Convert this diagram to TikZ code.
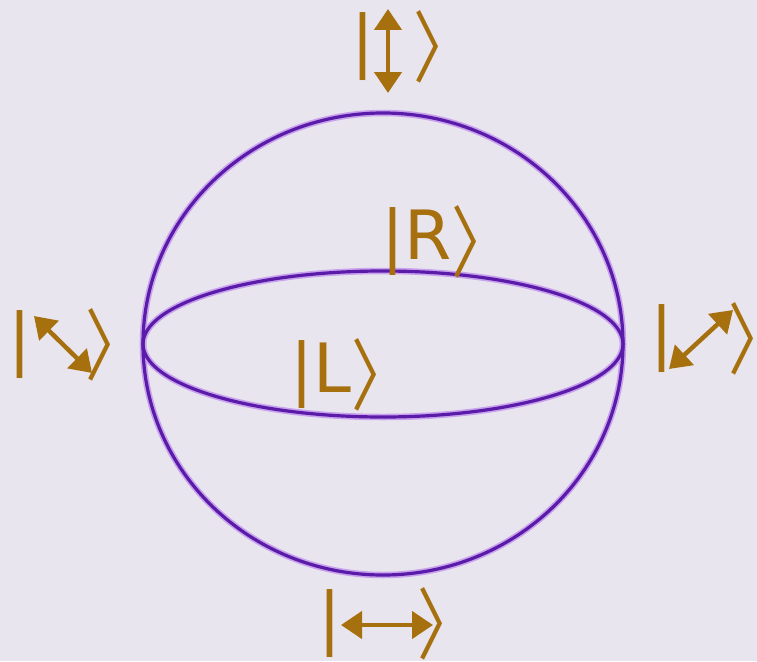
\documentclass[tikz,border=0pt]{standalone}
\usepackage{fontspec}
\usepackage{graphicx}
\newfontfamily\ketfont{DejaVu Sans}
\newfontfamily\cjk{Noto Sans CJK SC}
\usetikzlibrary{arrows.meta}
\definecolor{bgc}{HTML}{E9E5EE}
\definecolor{spherec}{HTML}{5A1CA8}
\definecolor{glowc}{HTML}{C9A2EE}
\definecolor{ketc}{HTML}{A6700F}
\newcommand{\kr}{\makebox[22pt][l]{\raisebox{-12pt}[52pt][15pt]{\scalebox{0.78}[1]{\cjk\fontsize{78}{78}\selectfont 〉}}}}
\tikzset{
  ket/.style={text=ketc, inner sep=0pt, anchor=base west, font=\ketfont\fontsize{68}{68}\selectfont},
  polarrow/.style={draw=ketc, line width=4.5pt, {Triangle[length=21pt,width=27pt]}-{Triangle[length=21pt,width=27pt]}},
  sphereline/.style={draw=spherec, line width=3.2pt},
  sphereglow/.style={draw=glowc, line width=6.5pt}
}
\begin{document}
\begin{tikzpicture}[x=1pt,y=-1pt]
\fill[bgc] (0,0) rectangle (757,661);
\useasboundingbox (0,0) rectangle (757,661);
% sphere
\coordinate (c) at (383,344);
\draw[sphereglow] (c) ellipse [x radius=240, y radius=231];
\draw[sphereglow] (c) ellipse [x radius=240, y radius=73];
\draw[sphereline] (c) ellipse [x radius=240, y radius=231];
\draw[sphereline] (c) ellipse [x radius=240, y radius=73];
% kets
\node[ket] (kR) at (381.5,259) {|R\kr};
\node[ket] (kL) at (290.5,392) {|L\kr};
\node[ket] (kV) at (351.5,64) {|\hspace{39.3pt}\kr};
\node[ket] (kA) at (8.5,362) {|\hspace{54.3pt}\kr};
\node[ket] (kD) at (650.5,356) {|\hspace{55pt}\kr};
\node[ket] (kH) at (318.5,641) {|\hspace{76.3pt}\kr};
% arrows
\coordinate (v1) at (388,9);   \coordinate (v2) at (388,93);
\coordinate (a1) at (34,316);  \coordinate (a2) at (92,373);
\coordinate (d1) at (669,369); \coordinate (d2) at (733,310);
\coordinate (h1) at (341,625); \coordinate (h2) at (433,625);
\draw[polarrow] (v1) -- (v2);
\draw[polarrow] (a1) -- (a2);
\draw[polarrow] (d1) -- (d2);
\draw[polarrow] (h1) -- (h2);
\end{tikzpicture}
\end{document}
